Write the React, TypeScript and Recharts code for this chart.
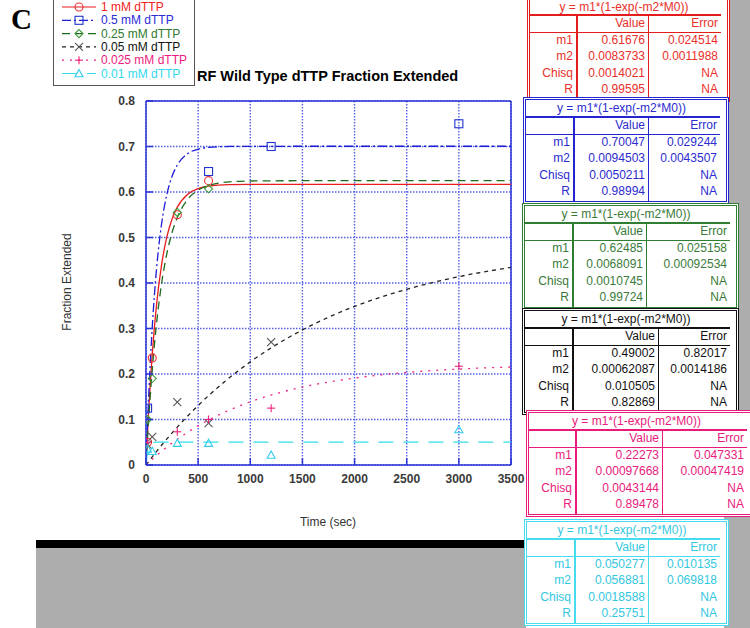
import { ComposedChart, Line, Scatter, XAxis, YAxis, CartesianGrid, ReferenceLine } from 'recharts'

// measured points, time in seconds
const T_1MM = [15, 60, 300, 600]
const Y_1MM = [0.05, 0.235, 0.55, 0.625]
const T_05MM = [15, 600, 1200, 3000]
const Y_05MM = [0.125, 0.645, 0.7, 0.75]
const T_025MM = [15, 60, 300, 600]
const Y_025MM = [0.1, 0.19, 0.555, 0.607]
const T_005MM = [15, 60, 300, 600, 1200]
const Y_005MM = [0.045, 0.062, 0.138, 0.092, 0.27]
const T_0025MM = [15, 300, 600, 1200, 3000]
const Y_0025MM = [0.05, 0.073, 0.1, 0.125, 0.217]
const T_001MM = [15, 60, 300, 600, 1200, 3000]
const Y_001MM = [0.035, 0.03, 0.048, 0.048, 0.022, 0.078]

// fitted curves
const FIT_T_FAST = [0, 10, 20, 40, 60, 80, 100, 150, 200, 250, 300, 400, 500, 600, 800, 1000, 1500, 2000, 2500, 3000, 3500]
const FIT_1MM = [0, 0.0495, 0.0951, 0.1755, 0.2436, 0.3011, 0.3498, 0.4411, 0.5012, 0.5407, 0.5667, 0.5951, 0.6074, 0.6127, 0.616, 0.6166, 0.6168, 0.6168, 0.6168, 0.6168, 0.6168]
const FIT_05MM = [0, 0.0632, 0.1206, 0.2205, 0.3032, 0.3716, 0.4282, 0.5307, 0.5946, 0.6345, 0.6593, 0.6845, 0.6942, 0.6981, 0.7001, 0.7004, 0.7005, 0.7005, 0.7005, 0.7005, 0.7005]
const FIT_025MM = [0, 0.0411, 0.0795, 0.149, 0.2096, 0.2624, 0.3086, 0.3998, 0.4648, 0.5109, 0.5438, 0.5839, 0.6041, 0.6143, 0.6222, 0.6242, 0.6248, 0.6248, 0.6248, 0.6248, 0.6248]
const FIT_001MM = [0, 0.0218, 0.0342, 0.0451, 0.0486, 0.0497, 0.0501, 0.0503, 0.0503, 0.0503, 0.0503, 0.0503, 0.0503, 0.0503, 0.0503, 0.0503, 0.0503, 0.0503, 0.0503, 0.0503, 0.0503]
const FIT_T_SLOW = [0, 100, 250, 500, 750, 1000, 1250, 1500, 1750, 2000, 2500, 3000, 3500]
const FIT_005MM = [0, 0.0295, 0.0705, 0.1308, 0.1824, 0.2266, 0.2645, 0.2969, 0.3247, 0.3485, 0.3862, 0.4139, 0.4343]
const FIT_0025MM = [0, 0.0207, 0.0483, 0.086, 0.1157, 0.1389, 0.157, 0.1713, 0.1824, 0.1911, 0.2034, 0.2108, 0.2154]

const X_TICKS = [0, 500, 1000, 1500, 2000, 2500, 3000, 3500]
const Y_TICKS = [0, 0.1, 0.2, 0.3, 0.4, 0.5, 0.6, 0.7, 0.8]

// fit tables
const FIT_FORMULA = 'y = m1*(1-exp(-m2*M0))'
const ROW_NAMES = ['m1', 'm2', 'Chisq', 'R']
const VAL_1MM = ['0.61676', '0.0083733', '0.0014021', '0.99595']
const ERR_1MM = ['0.024514', '0.0011988', 'NA', 'NA']
const VAL_05MM = ['0.70047', '0.0094503', '0.0050211', '0.98994']
const ERR_05MM = ['0.029244', '0.0043507', 'NA', 'NA']
const VAL_025MM = ['0.62485', '0.0068091', '0.0010745', '0.99724']
const ERR_025MM = ['0.025158', '0.00092534', 'NA', 'NA']
const VAL_005MM = ['0.49002', '0.00062087', '0.010505', '0.82869']
const ERR_005MM = ['0.82017', '0.0014186', 'NA', 'NA']
const VAL_0025MM = ['0.22273', '0.00097668', '0.0043144', '0.89478']
const ERR_0025MM = ['0.047331', '0.00047419', 'NA', 'NA']
const VAL_001MM = ['0.050277', '0.056881', '0.0018588', '0.25751']
const ERR_001MM = ['0.010135', '0.069818', 'NA', 'NA']

const FONT = '"Liberation Sans", Arial, Helvetica, sans-serif'
const FRAME = '#2b35d6'
const GRID = '#5560e8'

type MarkerKind = 'circle' | 'square' | 'diamond' | 'x' | 'plus' | 'triangle'

const pts = (ts: number[], ys: number[]) => ts.map((t, i) => ({ t, y: ys[i] }))

const SERIES = [
  { name: '1 mM dTTP', text: '#ee2222', line: '#e81c1c', mark: '#ee3333', dash: undefined, marker: 'circle' as MarkerKind, points: pts(T_1MM, Y_1MM), fit: pts(FIT_T_FAST, FIT_1MM) },
  { name: '0.5 mM dTTP', text: '#2a2ad8', line: '#1e1ed6', mark: '#2233cc', dash: '9 3 2 3', marker: 'square' as MarkerKind, points: pts(T_05MM, Y_05MM), fit: pts(FIT_T_FAST, FIT_05MM) },
  { name: '0.25 mM dTTP', text: '#2f7a2f', line: '#1d6b1d', mark: '#3c9a3c', dash: '8 5', marker: 'diamond' as MarkerKind, points: pts(T_025MM, Y_025MM), fit: pts(FIT_T_FAST, FIT_025MM) },
  { name: '0.05 mM dTTP', text: '#111111', line: '#222222', mark: '#555555', dash: '4 4', marker: 'x' as MarkerKind, points: pts(T_005MM, Y_005MM), fit: pts(FIT_T_SLOW, FIT_005MM) },
  { name: '0.025 mM dTTP', text: '#ee1a80', line: '#ee2288', mark: '#ee2277', dash: '2 6', marker: 'plus' as MarkerKind, points: pts(T_0025MM, Y_0025MM), fit: pts(FIT_T_SLOW, FIT_0025MM) },
  { name: '0.01 mM dTTP', text: '#33d8ec', line: '#33dde8', mark: '#33ccee', dash: '15 10', marker: 'triangle' as MarkerKind, points: pts(T_001MM, Y_001MM), fit: pts(FIT_T_FAST, FIT_001MM) },
]

const TABLES = [
  { color: '#e41c1c', text: '#e8302a', left: 527, top: -3, titleH: 16, cols: [50, 71, 76], values: VAL_1MM, errors: ERR_1MM },
  { color: '#2424d0', text: '#2b2bd0', left: 523, top: 97, titleH: 18, cols: [51, 74, 75], values: VAL_05MM, errors: ERR_05MM },
  { color: '#2e7d32', text: '#3a7a3a', left: 522, top: 203, titleH: 18, cols: [51, 73, 87], values: VAL_025MM, errors: ERR_025MM },
  { color: '#111111', text: '#111111', left: 522, top: 308, titleH: 18, cols: [51, 85, 75], values: VAL_005MM, errors: ERR_005MM },
  { color: '#ea1a7c', text: '#e8207c', left: 526, top: 410, titleH: 18, cols: [50, 86, 88], values: VAL_0025MM, errors: ERR_0025MM },
  { color: '#44dcee', text: '#33c8e0', left: 524, top: 519, titleH: 18, cols: [51, 73, 75], values: VAL_001MM, errors: ERR_001MM },
]

function Marker({ kind, color, cx, cy }: { kind: MarkerKind; color: string; cx: number; cy: number }) {
  const s = 4
  const common = { fill: 'none', stroke: color, strokeWidth: 1.1 }
  switch (kind) {
    case 'circle':
      return <circle cx={cx} cy={cy} r={s} {...common} />
    case 'square':
      return <rect x={cx - s} y={cy - s} width={2 * s} height={2 * s} {...common} />
    case 'diamond':
      return <polygon points={`${cx},${cy - s} ${cx + s},${cy} ${cx},${cy + s} ${cx - s},${cy}`} {...common} />
    case 'x':
      return (
        <g {...common}>
          <line x1={cx - s} y1={cy - s} x2={cx + s} y2={cy + s} />
          <line x1={cx - s} y1={cy + s} x2={cx + s} y2={cy - s} />
        </g>
      )
    case 'plus':
      return (
        <g {...common}>
          <line x1={cx - s} y1={cy} x2={cx + s} y2={cy} />
          <line x1={cx} y1={cy - s} x2={cx} y2={cy + s} />
        </g>
      )
    default:
      return <polygon points={`${cx},${cy - s} ${cx + s},${cy + s * 0.8} ${cx - s},${cy + s * 0.8}`} {...common} />
  }
}

const XTick = (p: any) => (
  <g>
    <line x1={p.x} x2={p.x} y1={p.y} y2={p.y - 7} stroke={FRAME} strokeWidth={1.5} />
    <text x={p.x} y={p.y + 18} textAnchor="middle" fontSize={12} fontWeight="bold" fill="#3a3a3a" fontFamily={FONT}>
      {p.payload.value}
    </text>
  </g>
)

const YTick = (p: any) => (
  <g>
    <line x1={p.x} x2={p.x + 7} y1={p.y} y2={p.y} stroke={FRAME} strokeWidth={1.5} />
    <text x={p.x - 11} y={p.y + 4} textAnchor="end" fontSize={12} fontWeight="bold" fill="#3a3a3a" fontFamily={FONT}>
      {p.payload.value}
    </text>
  </g>
)

// inward ticks on the top and right edges of the frame
const TopTick = (p: any) => <line x1={p.x} x2={p.x} y1={p.y} y2={p.y + 7} stroke={FRAME} strokeWidth={1.5} />
const RightTick = (p: any) => <line x1={p.x} x2={p.x - 7} y1={p.y} y2={p.y} stroke={FRAME} strokeWidth={1.5} />

function FitTable({ t }: { t: (typeof TABLES)[number] }) {
  const width = t.cols[0] + t.cols[1] + t.cols[2]
  const cell = (extra: any = {}) => ({
    borderRight: `1px solid ${t.color}`,
    borderBottom: `1px solid ${t.color}`,
    textAlign: 'right' as const,
    paddingRight: 3,
    lineHeight: '15.6px',
    whiteSpace: 'nowrap' as const,
    overflow: 'hidden',
    ...extra,
  })
  return (
    <div
      style={{
        position: 'absolute',
        left: t.left,
        top: t.top,
        width: width + 6,
        background: '#fff',
        border: `3px double ${t.color}`,
        boxSizing: 'border-box',
        fontFamily: FONT,
        fontSize: 12,
        color: t.text,
      }}
    >
      <div
        style={{
          display: 'grid',
          gridTemplateColumns: `${t.cols[0] - 2}px ${t.cols[1]}px ${t.cols[2] - 4}px`,
          gridTemplateRows: `${t.titleH}px repeat(5, 16.6px)`,
        }}
      >
        <div style={cell({ gridColumn: '1 / 4', textAlign: 'center', borderBottomWidth: 2, borderRight: 'none', lineHeight: `${t.titleH - 2}px` })}>
          {FIT_FORMULA}
        </div>
        <div style={cell({ borderRightWidth: 2 })} />
        <div style={cell()}>Value</div>
        <div style={cell({ borderRight: 'none' })}>Error</div>
        {ROW_NAMES.map((r, i) => [
          <div key={r + 'n'} style={cell({ borderRightWidth: 2, borderBottom: i === 3 ? 'none' : undefined })}>{r}</div>,
          <div key={r + 'v'} style={cell({ borderBottom: i === 3 ? 'none' : undefined })}>{t.values[i]}</div>,
          <div key={r + 'e'} style={cell({ borderRight: 'none', borderBottom: i === 3 ? 'none' : undefined })}>{t.errors[i]}</div>,
        ])}
      </div>
    </div>
  )
}

function LegendBox() {
  return (
    <div
      style={{
        position: 'absolute',
        left: 53,
        top: -1,
        width: 142,
        height: 87,
        border: '1px solid #555',
        background: '#fff',
        boxSizing: 'border-box',
      }}
    >
      <svg width={140} height={86}>
        {SERIES.map((s, i) => {
          const y = 7 + i * 13.3
          return (
            <g key={s.name}>
              <line x1={8} x2={42} y1={y} y2={y} stroke={s.line} strokeWidth={1.2} strokeDasharray={s.dash} />
              <Marker kind={s.marker} color={s.mark} cx={25} cy={y} />
              <text x={47} y={y + 4} fontSize={12} fill={s.text} fontFamily={FONT}>
                {s.name}
              </text>
            </g>
          )
        })}
      </svg>
    </div>
  )
}

export default function App() {
  return (
    <div style={{ position: 'absolute', left: 0, top: 0, width: 750, height: 628, background: '#fff', overflow: 'hidden' }}>
      <div style={{ position: 'absolute', left: 724, top: 0, width: 26, height: 628, background: '#adadad' }} />
      <div style={{ position: 'absolute', left: 36, top: 540, width: 490, height: 8, background: '#000' }} />
      <div style={{ position: 'absolute', left: 36, top: 548, width: 490, height: 80, background: '#adadad' }} />

      <div style={{ position: 'absolute', left: 0, top: 0 }}>
        <ComposedChart width={530} height={540} margin={{ top: 101, right: 19, bottom: 45, left: 106 }}>
          <CartesianGrid stroke={GRID} strokeWidth={1.4} strokeDasharray="1.5 1.5" />
          <XAxis
            type="number"
            dataKey="t"
            domain={[0, 3500]}
            ticks={X_TICKS}
            allowDataOverflow
            height={30}
            tickSize={0}
            tickMargin={0}
            tickLine={false}
            axisLine={{ stroke: FRAME, strokeWidth: 1.5 }}
            tick={XTick}
          />
          <XAxis
            xAxisId="top"
            orientation="top"
            type="number"
            dataKey="t"
            domain={[0, 3500]}
            ticks={X_TICKS}
            allowDataOverflow
            height={0}
            tickSize={0}
            tickMargin={0}
            tickLine={false}
            axisLine={{ stroke: FRAME, strokeWidth: 1.5 }}
            tick={TopTick}
          />
          <YAxis
            type="number"
            dataKey="y"
            domain={[0, 0.8]}
            ticks={Y_TICKS}
            allowDataOverflow
            width={40}
            tickSize={0}
            tickMargin={0}
            tickLine={false}
            axisLine={{ stroke: FRAME, strokeWidth: 1.5 }}
            tick={YTick}
          />
          <YAxis
            yAxisId="right"
            orientation="right"
            type="number"
            dataKey="y"
            domain={[0, 0.8]}
            ticks={Y_TICKS}
            allowDataOverflow
            width={0}
            tickSize={0}
            tickMargin={0}
            tickLine={false}
            axisLine={{ stroke: FRAME, strokeWidth: 1.5 }}
            tick={RightTick}
          />
          <ReferenceLine y={0.8} stroke={FRAME} strokeWidth={1.5} />
          <ReferenceLine x={3500} stroke={FRAME} strokeWidth={1.5} />
          {SERIES.map(s => (
            <Line
              key={s.name + 'fit'}
              data={s.fit}
              dataKey="y"
              type="monotone"
              stroke={s.line}
              strokeWidth={1.3}
              strokeDasharray={s.dash}
              dot={false}
              activeDot={false}
              isAnimationActive={false}
            />
          ))}
          {SERIES.map(s => (
            <Scatter
              key={s.name + 'pts'}
              data={s.points}
              dataKey="y"
              isAnimationActive={false}
              shape={(p: any) => <Marker kind={s.marker} color={s.mark} cx={p.cx} cy={p.cy} />}
            />
          ))}
        </ComposedChart>
      </div>

      <div style={{ position: 'absolute', left: 11, top: 3, fontFamily: '"Liberation Serif", serif', fontWeight: 'bold', fontSize: 29 }}>C</div>
      <div style={{ position: 'absolute', left: 197, top: 68, fontFamily: FONT, fontWeight: 'bold', fontSize: 14.5, whiteSpace: 'nowrap' }}>
        RF Wild Type dTTP Fraction Extended
      </div>
      <LegendBox />
      <div
        style={{
          position: 'absolute',
          left: 67,
          top: 282,
          transform: 'translate(-50%, -50%) rotate(-90deg)',
          fontFamily: FONT,
          fontSize: 12,
          color: '#333',
          whiteSpace: 'nowrap',
        }}
      >
        Fraction Extended
      </div>
      <div style={{ position: 'absolute', left: 328, top: 515, transform: 'translateX(-50%)', fontFamily: FONT, fontSize: 12, color: '#333' }}>
        Time (sec)
      </div>

      {TABLES.map((t, i) => (
        <FitTable key={i} t={t} />
      ))}
    </div>
  )
}
